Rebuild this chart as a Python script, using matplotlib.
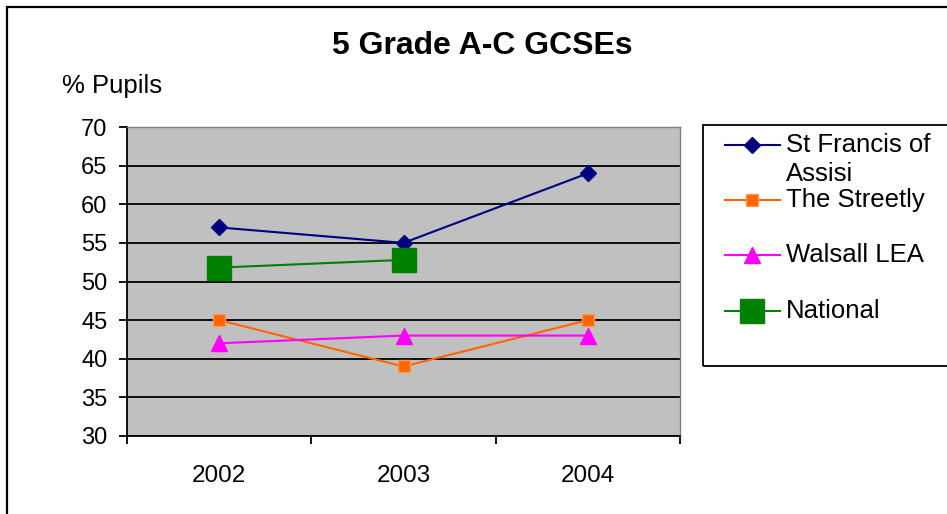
import numpy as np
import matplotlib.pyplot as plt
from matplotlib.lines import Line2D
from matplotlib.patches import Rectangle

plt.rcParams['font.family'] = ['Liberation Sans', 'DejaVu Sans']

years = ['2002', '2003', '2004']
st_francis = [57, 55, 64]
streetly = [45, 39, 45]
walsall = [42, 43, 43]
national = [51.8, 52.8]

W, H = 947, 514
fig = plt.figure(figsize=(W / 100, H / 100), dpi=100)

def fx(px):
    return px / W

def fy(py):
    return 1 - py / H

# outer chart border (only top and left visible in the picture)
fig.add_artist(Rectangle((fx(7), fy(600)), 2, fy(7) - fy(600), transform=fig.transFigure,
                         fill=False, edgecolor='black', lw=1.6, clip_on=False))

ax = fig.add_axes([fx(127), fy(436), fx(680) - fx(127), fy(127) - fy(436)])
ax.set_facecolor('#C0C0C0')

x = np.arange(1, len(years) + 1)
series = [
    ('St Francis of Assisi', st_francis, '#000080', 'D', 8, '#000080', '#000080'),
    ('The Streetly', streetly, '#FF6600', 's', 9, '#FF6600', '#FF9955'),
    ('Walsall LEA', walsall, '#FF00FF', '^', 11, '#FF00FF', '#FF00FF'),
    ('National', national, '#008000', 's', 17, '#008000', '#008000'),
]
for name, vals, col, mk, ms, fc, ec in series:
    ax.plot(x[:len(vals)], vals, color=col, lw=1.5, marker=mk, ms=ms,
            markerfacecolor=fc, markeredgecolor=ec, markeredgewidth=1, zorder=3)

ax.set_ylim(30, 70)
ax.set_yticks(np.arange(30, 71, 5))
ax.yaxis.grid(True, color='black', lw=1.3)
ax.set_axisbelow(True)
ax.set_xlim(0.5, len(years) + 0.5)
ax.set_xticks(np.arange(0.5, len(years) + 1, 1))
ax.set_xticklabels([])
for xi, lab in zip(x, years):
    ax.text(xi, -0.13, lab, transform=ax.get_xaxis_transform(), ha='center', va='center',
            fontsize=17.5)
ax.tick_params(axis='y', labelsize=17, length=6, width=1.3, pad=8)
ax.tick_params(axis='x', length=6, width=1.3)
for side in ['top', 'right']:
    ax.spines[side].set_color('#808080')
    ax.spines[side].set_linewidth(1)
for side in ['left', 'bottom']:
    ax.spines[side].set_color('black')
    ax.spines[side].set_linewidth(1.3)

fig.text(fx(482), fy(46), '5 Grade A-C GCSEs', ha='center', va='center',
         fontsize=23, fontweight='bold')
fig.text(fx(62), fy(86), '% Pupils', ha='left', va='center', fontsize=18.5)

# legend drawn by hand so the wrapped label lines up like the original
fig.add_artist(Rectangle((fx(703), fy(366)), fx(1000) - fx(703), fy(125) - fy(366),
                         transform=fig.transFigure, fill=False, edgecolor='black',
                         lw=1.3, clip_on=False))
labels = ['St Francis of', 'The Streetly', 'Walsall LEA', 'National']
rows = [145, 200, 255, 311]
for (name, vals, col, mk, ms, fc, ec), lab, ry in zip(series, labels, rows):
    fig.add_artist(Line2D([fx(725), fx(780)], [fy(ry), fy(ry)], color=col, lw=1.5,
                          transform=fig.transFigure))
    fig.add_artist(Line2D([fx(752)], [fy(ry)], marker=mk, ms=ms, markerfacecolor=fc,
                          markeredgecolor=ec, transform=fig.transFigure))
    fig.text(fx(786), fy(ry), lab, ha='left', va='center', fontsize=18.5)
fig.text(fx(786), fy(174), 'Assisi', ha='left', va='center', fontsize=18.5)

fig.savefig('out.png', dpi=100)
